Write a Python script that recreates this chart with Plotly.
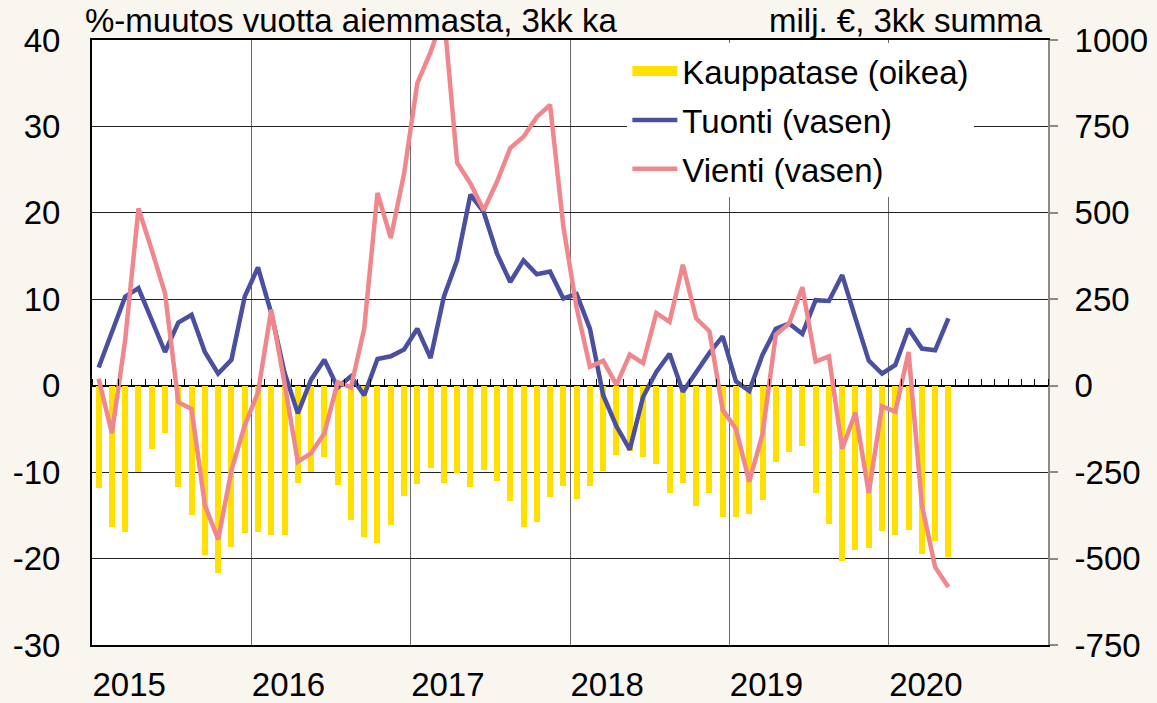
import numpy as np
import pandas as pd
import plotly.graph_objects as go

# ---- data (Jan 2015 .. May 2020, monthly) ----
months = pd.date_range("2015-01-01", periods=65, freq="MS")
years = ["2015", "2016", "2017", "2018", "2019", "2020"]
left_ticks = [-30, -20, -10, 0, 10, 20, 30, 40]
right_ticks = [-750, -500, -250, 0, 250, 500, 750, 1000]

# Trade balance, EUR million, 3-month sum (right axis)
kauppatase = [
    -297, -408, -422, -249, -184, -138, -294, -374, -490, -543, -466, -427,
    -424, -432, -432, -282, -249, -205, -287, -389, -437, -456, -403, -319,
    -284, -237, -282, -252, -294, -244, -276, -333, -408, -393, -321, -290,
    -328, -289, -246, -199, -190, -207, -225, -311, -280, -347, -311, -381,
    -379, -372, -331, -220, -192, -173, -309, -400, -506, -475, -470, -419,
    -432, -417, -488, -448, -496,
]

# Imports, % y/y, 3-month average (left axis)
tuonti = [
    2.1, 6.1, 10.3, 11.3, 7.6, 3.9, 7.3, 8.2, 3.9, 1.4, 3.0, 10.3,
    13.7, 8.4, 1.5, -3.2, 0.7, 3.0, -0.2, 1.1, -1.1, 3.1, 3.4, 4.2,
    6.6, 3.2, 10.3, 14.5, 22.1, 20.1, 15.3, 12.0, 14.5, 12.9, 13.2, 10.1,
    10.6, 6.6, -1.1, -4.7, -7.4, -1.3, 1.6, 3.7, -0.7, 1.6, 3.8, 5.7,
    0.5, -0.6, 3.6, 6.6, 7.2, 6.0, 9.9, 9.8, 12.8, 7.8, 2.9, 1.4,
    2.4, 6.6, 4.3, 4.1, 7.8,
]

# Exports, % y/y, 3-month average (left axis)
vienti = [
    0.8, -5.5, 5.3, 20.5, 15.7, 10.7, -1.9, -2.7, -13.8, -17.8, -9.8, -4.6,
    -0.8, 8.8, 0.3, -8.8, -7.8, -5.5, 0.4, -0.2, 6.6, 22.3, 17.1, 24.5,
    35.0, 38.6, 43.0, 25.8, 23.4, 20.3, 23.6, 27.5, 28.8, 31.1, 32.5, 18.4,
    9.0, 2.2, 2.9, 0.1, 3.6, 2.6, 8.4, 7.4, 14.0, 7.8, 6.3, -2.8,
    -5.0, -11.1, -5.6, 5.9, 7.2, 11.4, 2.8, 3.4, -7.3, -3.1, -12.4, -2.4,
    -3.0, 3.9, -13.8, -21.0, -23.3,
]

# month centres in "months since Jan 2015" units
x = np.arange(len(months)) + 0.5

FONT = "Liberation Sans, Arial, sans-serif"
FS = 33
BG = "#F9F5EF"
YELLOW = "#FFE000"
BLUE = "#4A4F9F"
PINK = "#EF878C"

fig = go.Figure()
fig.add_trace(go.Bar(
    x=x, y=kauppatase, name="Kauppatase (oikea)", showlegend=False,
    marker=dict(color=YELLOW, line=dict(width=0)), width=0.45,
    xaxis="x", yaxis="y",
))
# legend entry for the bars (wide yellow swatch like the original)
fig.add_trace(go.Scatter(
    x=[None], y=[None], name="Kauppatase (oikea)", mode="lines",
    line=dict(color=YELLOW, width=18), legendgroup="a",
    xaxis="x", yaxis="y",
))
fig.add_trace(go.Scatter(
    x=x, y=tuonti, name="Tuonti (vasen)", mode="lines",
    line=dict(color=BLUE, width=4.5), legendgroup="b",
    xaxis="x2", yaxis="y2",
))
fig.add_trace(go.Scatter(
    x=x, y=vienti, name="Vienti (vasen)", mode="lines",
    line=dict(color=PINK, width=4.5), legendgroup="c",
    xaxis="x2", yaxis="y2",
))

year_label_pos = [2.8 + 12 * k for k in range(len(years))]

fig.update_layout(
    width=1157, height=703,
    margin=dict(l=92, r=109, t=40, b=58, autoexpand=False),
    paper_bgcolor=BG, plot_bgcolor="white",
    font=dict(family=FONT, size=FS, color="black"),
    bargap=0,
    showlegend=True,
    legend=dict(
        x=0.56, y=0.995, xanchor="left", yanchor="top",
        bgcolor="white", borderwidth=0, font=dict(size=FS),
        itemwidth=45, tracegroupgap=3,
    ),
    xaxis=dict(
        range=[0, 72], tickmode="array", tickvals=year_label_pos, ticktext=years,
        ticks="", showgrid=False, zeroline=False, automargin=False,
        minor=dict(tickvals=[12, 24, 36, 48, 60], showgrid=True,
                   gridcolor="#6a6a6a", gridwidth=1, ticks=""),
        showline=True, linecolor="black", linewidth=2, mirror=True,
        ticklabelstandoff=9, tickfont=dict(size=FS),
    ),
    xaxis2=dict(
        overlaying="x", anchor="free", position=30 / 70, side="top",
        range=[0, 72], tickmode="array", tickvals=list(range(0, 73)),
        ticks="outside", ticklen=7, tickwidth=1, tickcolor="black",
        showticklabels=False, showgrid=False, showline=False, zeroline=False,
        automargin=False,
    ),
    yaxis=dict(
        side="right", range=[-750, 1000], tickmode="array",
        tickvals=right_ticks, ticktext=[str(v) for v in right_ticks],
        ticks="outside", ticklen=8, tickcolor="#8a8a8a", tickwidth=2,
        showline=True, linecolor="#8a8a8a", linewidth=2,
        showgrid=True, gridcolor="#222", gridwidth=1,
        zeroline=True, zerolinecolor="black", zerolinewidth=1.5,
        ticklabelstandoff=10, tickfont=dict(size=FS), automargin=False,
    ),
    yaxis2=dict(
        overlaying="y", side="left", anchor="x", range=[-30, 40],
        tickmode="array", tickvals=left_ticks, ticktext=[str(v) for v in left_ticks],
        ticks="", showgrid=False, zeroline=False,
        showline=True, linecolor="black", linewidth=2,
        ticklabelstandoff=23, tickfont=dict(size=FS), automargin=False,
    ),
    annotations=[
        dict(text="%-muutos vuotta aiemmasta, 3kk ka", xref="paper", yref="paper",
             x=0, y=1, xanchor="left", yanchor="bottom", xshift=-9, yshift=-1,
             showarrow=False, font=dict(size=FS)),
        dict(text="milj. €, 3kk summa", xref="paper", yref="paper",
             x=1, y=1, xanchor="right", yanchor="bottom", xshift=-3, yshift=-1,
             showarrow=False, font=dict(size=FS)),
    ],
)

fig.write_html(
    "out.html",
    config={"displayModeBar": False},
    post_script=(
        "document.body.style.margin='0';"
        "document.body.style.background='" + BG + "';"
    ),
)
